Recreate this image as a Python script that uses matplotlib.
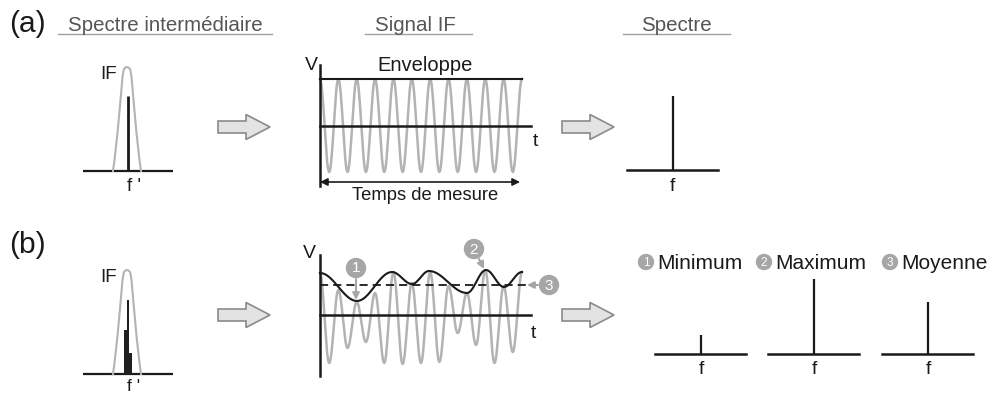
import numpy as np
import matplotlib.pyplot as plt
from matplotlib.patches import FancyArrow, Circle

plt.rcParams['font.family'] = ['Liberation Sans', 'DejaVu Sans']

# values (pixels above each baseline / axis)
if_shape_h = [0, 11, 38, 71, 94, 100, 102, 103.5, 104]
if_shape_w = [14, 12.5, 9.5, 6.5, 4.5, 3.5, 3, 1.5, 0]
if_tone_a = 75
if_tones_b = [44, 74, 21]
if_tones_b_dx = [-2.4, 0, 2.4]

sig_a_levels = [47, -46] * 11 + [47]
sig_b_levels = [42, -48, 25, -33, 13, -27, 22, -48, 43, -49, 32, -48,
                43, -47, 29, -18, 22, -30, 45, -48, 29, -37, 43]
env_a_level = 47
env_b_x = [0, 37, 72, 92, 109, 147, 166, 184, 202]
env_b_level = [42, 14, 43, 31, 44, 22, 45, 28, 43]
mean_b_level = 30

spec_a_height = 74
spec_b_heights = [19, 75, 52]
spec_b_names = ['Minimum', 'Maximum', 'Moyenne']
headers = ['Spectre intermédiaire', 'Signal IF', 'Spectre']

BLACK = '#1a1a1a'
GREY = '#b3b3b3'
DOT = '#a6a6a6'


def half_cos(xs, ys, n=16):
    px, py = [], []
    for i in range(len(xs) - 1):
        s = np.linspace(0, 1, n, endpoint=False)
        px.extend(xs[i] + (xs[i + 1] - xs[i]) * s)
        py.extend(ys[i] + (ys[i + 1] - ys[i]) * (1 - np.cos(np.pi * s)) / 2)
    px.append(xs[-1])
    py.append(ys[-1])
    return np.array(px), np.array(py)


fig = plt.figure(figsize=(9.93, 3.94), dpi=100)
ax = fig.add_axes([0, 0, 1, 1])
ax.set_xlim(0, 993)
ax.set_ylim(394, 0)
ax.axis('off')

# row labels and headers
ax.text(27, 24, '(a)', fontsize=21.5, color=BLACK, ha='center', va='center')
ax.text(27, 245, '(b)', fontsize=21.5, color=BLACK, ha='center', va='center')
for txt, xc, (u0, u1) in zip(headers, [165, 415, 676], [(58, 272), (365, 472), (623, 730)]):
    ax.text(xc, 31, txt, fontsize=14.8, color='#555555', ha='center', va='baseline')
    ax.plot([u0, u1], [34, 34], color='#a0a0a0', lw=1.0)


def if_panel(base_y, f_dy, f_size):
    ax.plot([83, 173], [base_y, base_y], color=BLACK, lw=1.6, solid_capstyle='butt')
    xs = [127 - w for w in if_shape_w] + [127 + w for w in if_shape_w[::-1]]
    ys = [base_y - h for h in if_shape_h] + [base_y - h for h in if_shape_h[::-1]]
    ax.plot(xs, ys, color=GREY, lw=1.5)
    ax.text(109, base_y - 97, 'IF', fontsize=13.5, color=BLACK, ha='center', va='center')
    ax.text(134, base_y + f_dy, "f '", fontsize=f_size, color=BLACK, ha='center', va='center')


# (a) intermediate spectrum
if_panel(171, 15, 13.5)
ax.vlines(128, 171 - if_tone_a, 171, color=BLACK, lw=2.0)

# (b) intermediate spectrum
if_panel(374, 12.5, 12.5)
ax.bar([128 + d for d in if_tones_b_dx], [-h for h in if_tones_b], bottom=374,
       width=2.5, color='#202020', zorder=3)

# block arrows
for xa, ya in [(218, 127), (562, 127), (218, 315), (562, 315)]:
    ax.add_patch(FancyArrow(xa, ya, 52, 0, width=12, head_width=25, head_length=24,
                            length_includes_head=True, fc='#e3e3e3', ec='#8a8a8a', lw=1.2))

# (a) IF signal
x_a = np.linspace(320, 522, len(sig_a_levels))
px, py = half_cos(x_a, [126 - v for v in sig_a_levels])
ax.plot(px, py, color=GREY, lw=1.8)
ax.plot([320, 522], [126 - env_a_level] * 2, color=BLACK, lw=1.5)
ax.plot([320, 531], [126, 126], color=BLACK, lw=1.8)
ax.plot([320, 320], [65, 186], color=BLACK, lw=1.8)
ax.annotate('', xy=(320, 182), xytext=(520, 182),
            arrowprops=dict(arrowstyle='<|-|>', color=BLACK, lw=1.2,
                            mutation_scale=11, shrinkA=0, shrinkB=0))
ax.text(311, 65, 'V', fontsize=14, color=BLACK, ha='center', va='center')
ax.text(535, 141, 't', fontsize=14, color=BLACK, ha='center', va='center')
ax.text(425, 65, 'Enveloppe', fontsize=14.5, color=BLACK, ha='center', va='center')
ax.text(425, 195, 'Temps de mesure', fontsize=13.2, color=BLACK, ha='center', va='center')

# (b) IF signal
x_b = np.linspace(320, 522, len(sig_b_levels))
px, py = half_cos(x_b, [315 - v for v in sig_b_levels])
ax.plot(px, py, color=GREY, lw=1.8)
ex, ey = half_cos([320 + d for d in env_b_x], [315 - v for v in env_b_level])
ax.plot(ex, ey, color=BLACK, lw=1.5, zorder=4)
ax.plot([320, 528], [315 - mean_b_level] * 2, color=BLACK, lw=1.3,
        linestyle=(0, (4.5, 2.8)), zorder=4)
ax.plot([320, 531], [315, 315], color=BLACK, lw=1.8)
ax.plot([320, 320], [255, 376], color=BLACK, lw=1.8)
ax.text(309, 253, 'V', fontsize=14, color=BLACK, ha='center', va='center')
ax.text(533, 333, 't', fontsize=14, color=BLACK, ha='center', va='center')

for num, (cx, cy), tip in [('1', (356, 268), (356, 300)),
                           ('2', (474, 249), (484, 269)),
                           ('3', (549, 285), (527, 285))]:
    ax.annotate('', xy=tip, xytext=(cx, cy),
                arrowprops=dict(arrowstyle='-|>', color=DOT, lw=1.5,
                                mutation_scale=10, shrinkA=8, shrinkB=0), zorder=5)
    ax.add_patch(Circle((cx, cy), 9.5, color=DOT, zorder=6))
    ax.text(cx, cy + 0.5, num, fontsize=11, color='white', ha='center', va='center',
            zorder=7)

# (a) final spectrum
ax.plot([627, 718], [170, 170], color=BLACK, lw=1.8)
ax.vlines(673, 170 - spec_a_height, 170, color=BLACK, lw=1.6)
ax.text(672, 186, 'f', fontsize=14, color=BLACK, ha='center', va='center')

# (b) final spectra
for i, (h, name) in enumerate(zip(spec_b_heights, spec_b_names)):
    x0 = [655, 768, 882][i]
    xc = x0 + 46
    ax.plot([x0, x0 + 91], [354, 354], color=BLACK, lw=1.8)
    ax.vlines(xc, 354 - h, 354, color=BLACK, lw=1.6)
    ax.text(xc, 370, 'f', fontsize=14, color=BLACK, ha='center', va='center')
    cx = [646, 764, 890][i]
    ax.add_patch(Circle((cx, 262), 7.5, color=DOT, zorder=6))
    ax.text(cx, 262.5, str(i + 1), fontsize=8.5, color='white', ha='center',
            va='center', zorder=7)
    ax.text(cx + 11, 269, name, fontsize=15, color=BLACK, ha='left', va='baseline')

fig.savefig('out.png', dpi=100)
